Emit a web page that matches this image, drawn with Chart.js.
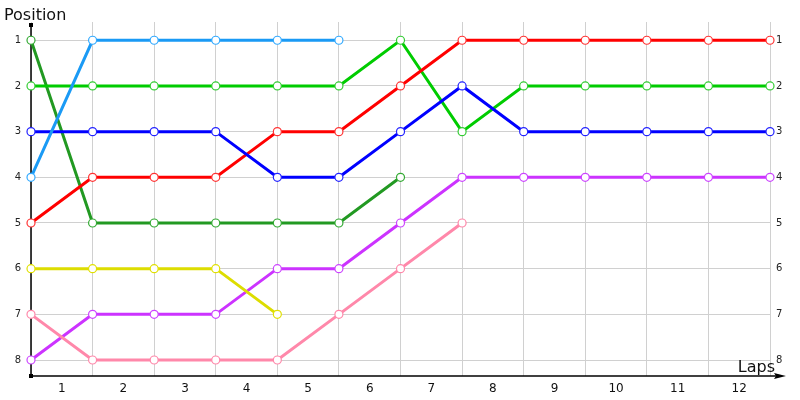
<!DOCTYPE html>
<html><head><meta charset="utf-8">
<script src="https://cdn.jsdelivr.net/npm/chart.js@4"></script>
<style>html,body{margin:0;padding:0;background:#fff}#wrap{width:800px;height:400px}</style>
</head><body><div id="wrap"><canvas id="c"></canvas></div>
<script>
const lapLabels = ['1','2','3','4','5','6','7','8','9','10','11','12'];
const positionTicks = [1,2,3,4,5,6,7,8];
const lightBlue   = [4,1,1,1,1,1];
const darkGreen   = [1,5,5,5,5,5,4];
const brightGreen = [2,2,2,2,2,2,1,3,2,2,2,2,2];
const blue        = [3,3,3,3,4,4,3,2,3,3,3,3,3];
const red         = [5,4,4,4,3,3,2,1,1,1,1,1,1];
const yellow      = [6,6,6,6,7];
const purple      = [8,7,7,7,6,6,5,4,4,4,4,4,4];
const pink        = [7,8,8,8,8,7,6,5];

function pts(arr){ return arr.map((v,i)=>({x:i,y:v})); }
function ds(arr,color,pcolor){
  return {data:pts(arr),borderColor:color,backgroundColor:'#fff',borderWidth:3,
    pointRadius:4,pointHoverRadius:4,pointBorderColor:pcolor||color,pointBackgroundColor:'#fff',
    pointBorderWidth:1.2,tension:0,clip:false,xAxisID:'x',yAxisID:'y'};
}
const font = "'DejaVu Sans', Verdana, sans-serif";
const axesPlugin = {
  id:'axesPlugin',
  beforeDatasetsDraw(chart){
    const c = chart.ctx, a = chart.chartArea;
    c.save();
    c.strokeStyle='#000'; c.fillStyle='#000'; c.lineWidth=1.5;
    c.beginPath(); c.moveTo(a.left, a.bottom); c.lineTo(a.left, a.top+3); c.stroke();
    c.beginPath(); c.moveTo(a.left, a.bottom); c.lineTo(a.right+12, a.bottom); c.stroke();
    c.fillRect(a.left-2, a.top+1, 4, 4);
    c.fillRect(a.left-2, a.bottom-2, 4, 4);
    c.beginPath(); c.moveTo(a.right+16, a.bottom); c.lineTo(a.right+4, a.bottom-3); c.lineTo(a.right+6, a.bottom); c.lineTo(a.right+4, a.bottom+3); c.closePath(); c.fill();
    c.font = "16px " + font; c.fillStyle='#111'; c.textBaseline='alphabetic';
    c.textAlign='left'; c.fillText('Position', 4, 20);
    c.textAlign='right'; c.fillText('Laps', a.right+5, 372);
    c.restore();
  }
};
new Chart(document.getElementById('c'), {
  type:'line',
  data:{datasets:[
    ds(lightBlue,'#1a9af5','#33aaff'),
    ds(yellow,'#dddd00','#e0e000'),
    ds(pink,'#ff88aa','#ff88aa'),
    ds(purple,'#cc33ff','#cc44ff'),
    ds(blue,'#0000ff','#2222ff'),
    ds(red,'#ff0000','#ff3333'),
    ds(brightGreen,'#00cc00','#33cc33'),
    ds(darkGreen,'#229922','#33aa33')
  ]},
  options:{
    responsive:true, maintainAspectRatio:false, animation:false,
    layout:{padding:{top:22,right:0,left:0,bottom:0}},
    plugins:{legend:{display:false},tooltip:{enabled:false}},
    scales:{
      x:{type:'linear',min:0,max:12,position:'bottom',
        ticks:{stepSize:1,display:false},
        grid:{color:'#d0d0d0',lineWidth:1,drawTicks:false},border:{display:false},
        afterFit(s){s.height=0;}
      },
      xl:{type:'category',labels:lapLabels,offset:true,position:'bottom',
        ticks:{color:'#111',font:{family:font,size:12},padding:6,maxRotation:0},
        grid:{display:false,drawTicks:false},border:{display:false},
        afterFit(s){s.height=24;}
      },
      y:{type:'linear',reverse:true,min:0.6,max:8.35,position:'left',
        afterBuildTicks(s){s.ticks=positionTicks.map(v=>({value:v}));},
        ticks:{color:'#222',font:{family:font,size:10},padding:10},
        grid:{color:'#d0d0d0',lineWidth:1,drawTicks:false},border:{display:false},
        afterFit(s){s.width=31;}
      },
      y2:{type:'linear',reverse:true,min:0.6,max:8.35,position:'right',
        afterBuildTicks(s){s.ticks=positionTicks.map(v=>({value:v}));},
        ticks:{color:'#222',font:{family:font,size:10},padding:6},
        grid:{display:false,drawTicks:false},border:{display:false},
        afterFit(s){s.width=30;}
      }
    }
  },
  plugins:[axesPlugin]
});
</script></body></html>
